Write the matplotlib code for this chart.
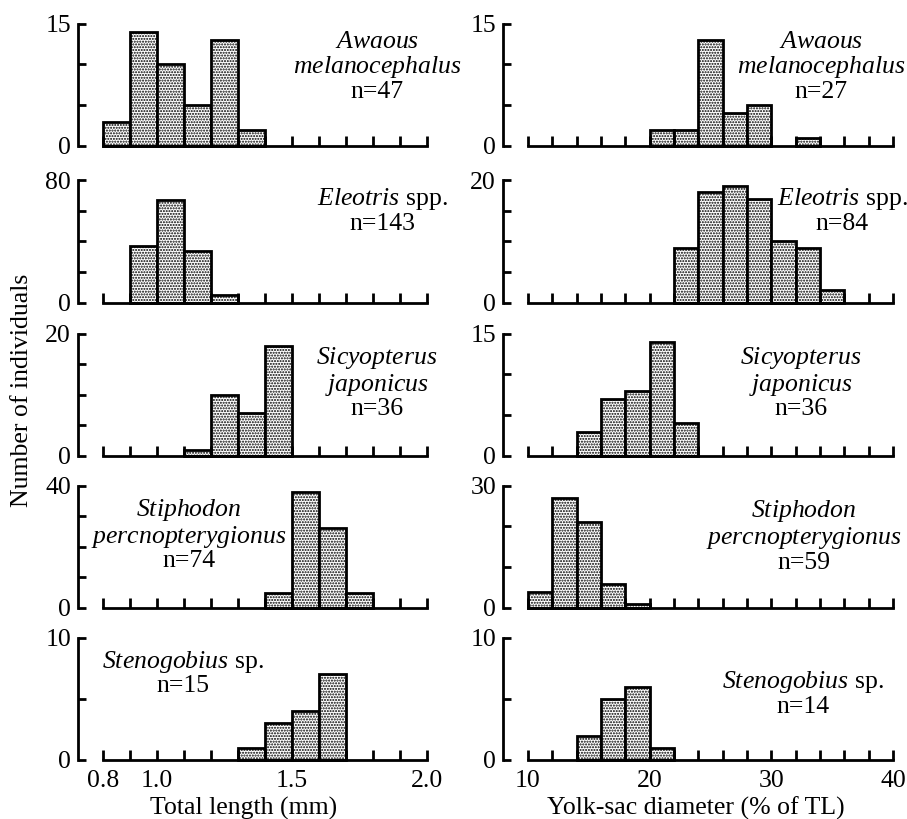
import numpy as np
import matplotlib
matplotlib.use('Agg')
import matplotlib.pyplot as plt

plt.rcParams['font.family'] = 'Liberation Serif'
plt.rcParams['mathtext.fontset'] = 'custom'
plt.rcParams['mathtext.rm'] = 'Liberation Serif'
plt.rcParams['mathtext.it'] = 'Liberation Serif:italic'
plt.rcParams['hatch.linewidth'] = 1.0

# bins (left edges)
tl_bins = [0.8, 0.9, 1.0, 1.1, 1.2, 1.3, 1.4, 1.5, 1.6, 1.7, 1.8, 1.9]
ys_bins = [10, 12, 14, 16, 18, 20, 22, 24, 26, 28, 30, 32, 34, 36, 38]

# total length counts
tl_awaous = [3, 14, 10, 5, 13, 2, 0, 0, 0, 0, 0, 0]
tl_eleotris = [0, 37, 67, 34, 5, 0, 0, 0, 0, 0, 0, 0]
tl_sicyopterus = [0, 0, 0, 1, 10, 7, 18, 0, 0, 0, 0, 0]
tl_stiphodon = [0, 0, 0, 0, 0, 0, 5, 38, 26, 5, 0, 0]
tl_stenogobius = [0, 0, 0, 0, 0, 1, 3, 4, 7, 0, 0, 0]

# yolk-sac diameter counts
ys_awaous = [0, 0, 0, 0, 0, 2, 2, 13, 4, 5, 0, 1, 0, 0, 0]
ys_eleotris = [0, 0, 0, 0, 0, 0, 9, 18, 19, 17, 10, 9, 2, 0, 0]
ys_sicyopterus = [0, 0, 3, 7, 8, 14, 4, 0, 0, 0, 0, 0, 0, 0, 0]
ys_stiphodon = [4, 27, 21, 6, 1, 0, 0, 0, 0, 0, 0, 0, 0, 0, 0]
ys_stenogobius = [0, 0, 2, 5, 6, 1, 0, 0, 0, 0, 0, 0, 0, 0, 0]

species = [r'$\mathit{Awaous}$' + '\n' + r'$\mathit{melanocephalus}$',
           r'$\mathit{Eleotris}$ spp.',
           r'$\mathit{Sicyopterus}$' + '\n' + r'$\mathit{japonicus}$',
           r'$\mathit{Stiphodon}$' + '\n' + r'$\mathit{percnopterygionus}$',
           r'$\mathit{Stenogobius}$ sp.']
n_left = ['n=47', 'n=143', 'n=36', 'n=74', 'n=15']
n_right = ['n=27', 'n=84', 'n=36', 'n=59', 'n=14']

ymax_left = [15, 80, 20, 40, 10]
ystep_left = [5, 20, 5, 10, 5]
ymax_right = [15, 20, 15, 30, 10]
ystep_right = [5, 5, 5, 10, 5]

tl_ticks = [0.8, 0.9, 1.0, 1.1, 1.2, 1.3, 1.4, 1.5, 1.6, 1.7, 1.8, 1.9, 2.0]
tl_labels = ['0.8', '', '1.0', '', '', '', '', '1.5', '', '', '', '', '2.0']
ys_ticks = [10, 12, 14, 16, 18, 20, 22, 24, 26, 28, 30, 32, 34, 36, 38, 40]
ys_labels = ['10', '', '', '', '', '20', '', '', '', '', '30', '', '', '', '', '40']

left_counts = [tl_awaous, tl_eleotris, tl_sicyopterus, tl_stiphodon, tl_stenogobius]
right_counts = [ys_awaous, ys_eleotris, ys_sicyopterus, ys_stiphodon, ys_stenogobius]

# text positions (axes fraction)
txt_left = [(0.846, 0.645), (0.861, 0.755), (0.846, 0.60), (0.265, 0.60), (0.247, 0.71)]
txt_right = [(0.803, 0.645), (0.86, 0.75), (0.748, 0.60), (0.756, 0.59), (0.753, 0.54)]

W, H = 907, 819
fig = plt.figure(figsize=(W / 100, H / 100), dpi=100)
zeros = [146, 302.7, 456, 608, 760]
ph = 122.5
fs = 18.5


def style(ax, ymax, ystep, ticks, labels, bottom):
    ax.set_ylim(0, ymax)
    for s in ['top', 'right']:
        ax.spines[s].set_visible(False)
    ax.spines['left'].set_position(('outward', 18))
    ax.spines['left'].set_linewidth(2.0)
    ax.spines['bottom'].set_linewidth(2.0)
    ax.set_yticks([0, ymax])
    ax.set_yticklabels(['0', str(ymax)])
    ax.set_yticks(np.arange(ystep, ymax, ystep), minor=True)
    ax.set_xticks(ticks)
    if bottom:
        ax.set_xticklabels(labels)
    else:
        ax.set_xticklabels([])
    ax.tick_params(axis='y', which='both', direction='in', length=6, width=2.0,
                   labelsize=fs, pad=5)
    ax.tick_params(axis='x', which='both', direction='in', length=7, width=2.0,
                   labelsize=fs, pad=7)


for i in range(5):
    bot = (H - zeros[i]) / H
    axl = fig.add_axes([103 / W, bot, 324 / W, ph / H])
    axr = fig.add_axes([528 / W, bot, 365 / W, ph / H])

    c = np.array(left_counts[i])
    b = np.array(tl_bins)
    m = c > 0
    axl.bar(b[m], c[m], width=0.1, align='edge', facecolor='white',
            edgecolor='black', hatch='......', linewidth=2.0, clip_on=False)
    axl.set_xlim(0.8, 2.0)
    style(axl, ymax_left[i], ystep_left[i], tl_ticks, tl_labels, i == 4)
    axl.text(txt_left[i][0], txt_left[i][1], species[i] + '\n' + n_left[i],
             transform=axl.transAxes, ha='center', va='center', fontsize=fs,
             linespacing=1.05)

    c = np.array(right_counts[i])
    b = np.array(ys_bins)
    m = c > 0
    axr.bar(b[m], c[m], width=2, align='edge', facecolor='white',
            edgecolor='black', hatch='......', linewidth=2.0, clip_on=False)
    axr.set_xlim(10, 40)
    style(axr, ymax_right[i], ystep_right[i], ys_ticks, ys_labels, i == 4)
    axr.text(txt_right[i][0], txt_right[i][1], species[i] + '\n' + n_right[i],
             transform=axr.transAxes, ha='center', va='center', fontsize=fs,
             linespacing=1.05)

    if i == 4:
        axl.set_xlabel('Total length (mm)', fontsize=fs)
        axl.xaxis.set_label_coords(0.435, -0.30)
        axr.set_xlabel('Yolk-sac diameter (% of TL)', fontsize=fs)
        axr.xaxis.set_label_coords(0.46, -0.30)

fig.text(22 / W, 1 - 390 / H, 'Number of individuals', rotation=90,
         ha='center', va='center', fontsize=fs)

plt.savefig('out.png', dpi=100)
